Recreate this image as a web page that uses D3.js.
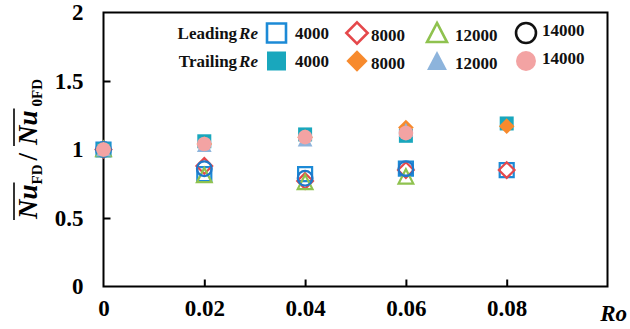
<!DOCTYPE html>
<html>
<head>
<meta charset="utf-8">
<script src="https://cdn.jsdelivr.net/npm/d3@7"></script>
<style>
  html, body { margin: 0; padding: 0; background: #fff; }
  svg { display: block; }
  svg text { font-family: "Times New Roman", "Liberation Serif", Tinos, Times, serif; font-weight: bold; }
</style>
</head>
<body>
<svg id="chart" width="630" height="329"></svg>
<script>
// Rotation number values and normalized Nusselt ratios per Reynolds number
const ro = [0, 0.02, 0.04, 0.06, 0.08];
const leading4000  = [1.0, 0.82, 0.82, 0.86, 0.85];
const leading8000  = [1.0, 0.88, 0.77, 0.85, 0.85];
const leading12000 = [1.0, 0.81, 0.76, 0.80, null];
const leading14000 = [1.0, 0.86, 0.79, 0.86, null];
const trailing4000  = [1.0, 1.06, 1.11, 1.10, 1.19];
const trailing8000  = [1.0, 1.04, 1.09, 1.16, 1.17];
const trailing12000 = [1.0, 1.03, 1.07, 1.14, null];
const trailing14000 = [1.0, 1.04, 1.09, 1.12, null];

const xTicks = [0, 0.02, 0.04, 0.06, 0.08];
const xTickLabels = ["0", "0.02", "0.04", "0.06", "0.08"];
const yTicks = [0, 0.5, 1, 1.5, 2];
const yTickLabels = ["0", "0.5", "1", "1.5", "2"];
const reLabels = ["4000", "8000", "12000", "14000"];

const series = [
  { side: "Leading",  re: 0, values: leading4000 },
  { side: "Leading",  re: 1, values: leading8000 },
  { side: "Leading",  re: 2, values: leading12000 },
  { side: "Leading",  re: 3, values: leading14000 },
  { side: "Trailing", re: 0, values: trailing4000 },
  { side: "Trailing", re: 1, values: trailing8000 },
  { side: "Trailing", re: 2, values: trailing12000 },
  { side: "Trailing", re: 3, values: trailing14000 }
];

// marker styles
const shapes = ["square", "diamond", "triangle", "circle"];
const leadColors = ["#1c8ad6", "#e5484b", "#8fc24f", "#1f78c9"];
const leadLegendColors = ["#1c8ad6", "#e5484b", "#8fc24f", "#111111"];
const trailColors = ["#19a7bd", "#f78a2d", "#8db4dc", "#f3a3a3"];

function shapePath(shape, s) {
  const h = s / 2;
  const p = d3.path();
  if (shape === "square") {
    p.rect(-h, -h, s, s);
  } else if (shape === "diamond") {
    const r = h * 1.12;
    p.moveTo(0, -r); p.lineTo(r, 0); p.lineTo(0, r); p.lineTo(-r, 0); p.closePath();
  } else if (shape === "triangle") {
    const hh = s * 0.95;
    p.moveTo(0, -hh / 2 - 1); p.lineTo(h * 1.05, hh / 2); p.lineTo(-h * 1.05, hh / 2); p.closePath();
  } else {
    p.arc(0, 0, h * 1.05, 0, 2 * Math.PI);
  }
  return p.toString();
}

function styleMarker(sel, side, re, legend) {
  if (side === "Leading") {
    const c = legend ? leadLegendColors[re] : leadColors[re];
    sel.attr("fill", "none").attr("stroke", c).attr("stroke-width", legend ? 2.6 : 2.2);
  } else {
    sel.attr("fill", trailColors[re]).attr("stroke", "none");
  }
}

const svg = d3.select("#chart");
const margin = { left: 103.5, right: 22.5, top: 12.5, bottom: 42.5 };
const W = 630, H = 329;

const x = d3.scaleLinear().domain([0, 0.1]).range([margin.left, W - margin.right]);
const y = d3.scaleLinear().domain([0, 2]).range([H - margin.bottom, margin.top]);

// plot frame
svg.append("rect")
  .attr("x", x(0)).attr("y", y(2))
  .attr("width", x(0.1) - x(0)).attr("height", y(0) - y(2))
  .attr("fill", "none").attr("stroke", "#000").attr("stroke-width", 2);

// x axis: inward ticks
const xAxis = d3.axisBottom(x).tickValues(xTicks)
  .tickFormat((d, i) => xTickLabels[i]).tickSizeInner(-7).tickSizeOuter(0).tickPadding(13);
const gx = svg.append("g").attr("transform", `translate(0,${y(0)})`).call(xAxis);
gx.attr("font-family", null);
gx.select(".domain").remove();
gx.selectAll(".tick line").attr("stroke", "#000").attr("stroke-width", 2)
  .filter(d => d === 0).remove();
gx.selectAll(".tick text").attr("font-size", 23).attr("fill", "#000");

// y axis: inward ticks
const yAxis = d3.axisLeft(y).tickValues(yTicks)
  .tickFormat((d, i) => yTickLabels[i]).tickSizeInner(-7).tickSizeOuter(0).tickPadding(20);
const gy = svg.append("g").attr("transform", `translate(${x(0)},0)`).call(yAxis);
gy.attr("font-family", null);
gy.select(".domain").remove();
gy.selectAll(".tick line").attr("stroke", "#000").attr("stroke-width", 2)
  .filter(d => d === 0 || d === 2).remove();
gy.selectAll(".tick text").attr("font-size", 23).attr("fill", "#000");

// data markers
series.forEach(s => {
  const pts = ro.map((r, i) => ({ r, v: s.values[i] })).filter(d => d.v != null);
  const g = svg.append("g");
  g.selectAll("path").data(pts).enter().append("path")
    .attr("d", shapePath(shapes[s.re], 14))
    .attr("transform", d => `translate(${x(d.r)},${y(d.v)})`)
    .call(sel => styleMarker(sel, s.side, s.re, false));
});

// legend
const legend = svg.append("g");
const rowY = [33, 61];
const markerX = [276.5, 357, 437, 526];
const labelX = [295, 371, 455, 542];
["Leading", "Trailing"].forEach((side, row) => {
  const t = legend.append("text").attr("x", 258).attr("y", rowY[row] + 6)
    .attr("text-anchor", "end").attr("font-size", 17).attr("fill", "#111");
  t.append("tspan").text(side);
  t.append("tspan").attr("dx", 2).attr("font-style", "italic").text("Re");
  reLabels.forEach((lab, i) => {
    legend.append("path")
      .attr("d", shapePath(shapes[i], 19))
      .attr("transform", `translate(${markerX[i]},${rowY[row]})`)
      .call(sel => styleMarker(sel, side, i, true));
    legend.append("text")
      .attr("x", labelX[i]).attr("y", rowY[row] + 6 + (i === 1 || i === 2 ? 2 : 0) - (i === 3 ? 3 : 0))
      .attr("font-size", 17).attr("fill", "#111").text(lab);
  });
});

// x axis title
svg.append("text").attr("x", 627).attr("y", 321).attr("text-anchor", "end")
  .attr("font-size", 23).attr("font-style", "italic").attr("fill", "#000").text("Ro");

// y axis title: overlined Nu_FD / Nu_0FD, rotated
const yt = svg.append("g").attr("transform", "translate(37,149) rotate(-90)");
const parts = [
  { t: "Nu", size: 27, italic: true, dy: 0, bar: true },
  { t: "FD", size: 15, italic: false, dy: 5, bar: false },
  { t: "/", size: 27, italic: false, dy: 0, bar: false, pad: 4 },
  { t: "Nu", size: 27, italic: true, dy: 0, bar: true, pad: 4 },
  { t: "0FD", size: 15, italic: false, dy: 5, bar: false }
];
let cx = 0;
const pieces = [];
parts.forEach(p => {
  cx += p.pad || 0;
  const el = yt.append("text").attr("x", cx).attr("y", p.dy)
    .attr("font-size", p.size).attr("font-style", p.italic ? "italic" : "normal")
    .attr("fill", "#000").text(p.t);
  const w = el.node().getComputedTextLength();
  pieces.push({ el, x0: cx, w, bar: p.bar });
  cx += w + (p.pad || 0);
});
const total = cx;
pieces.forEach(p => {
  p.el.attr("x", p.x0 - total / 2);
  if (p.bar) {
    yt.append("line")
      .attr("x1", p.x0 - total / 2 - 1).attr("x2", p.x0 - total / 2 + p.w + 2)
      .attr("y1", -23).attr("y2", -23)
      .attr("stroke", "#000").attr("stroke-width", 1.6);
  }
});
</script>
</body>
</html>
